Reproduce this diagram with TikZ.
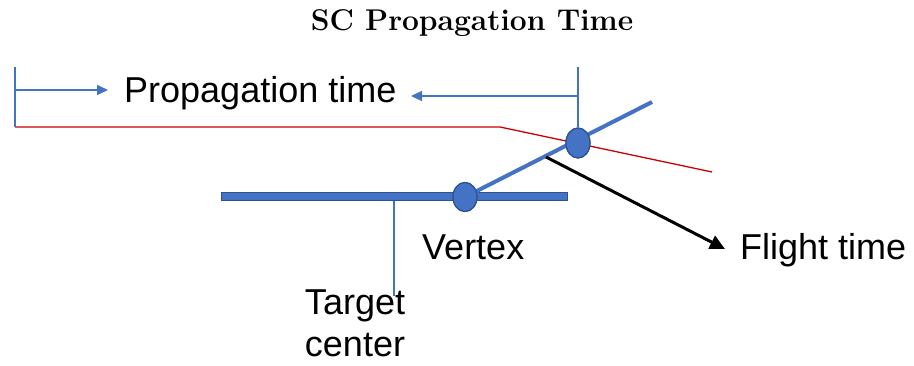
\documentclass[tikz,border=0pt]{standalone}
\usepackage{fontspec}
\newfontfamily\labelfont{Liberation Sans}
\usetikzlibrary{arrows.meta,shapes.geometric}
\definecolor{oblue}{RGB}{68,114,196}
\definecolor{dblue}{RGB}{47,82,143}
\definecolor{ored}{RGB}{204,0,0}
\tikzset{
  thinblue/.style={draw=oblue, line width=1.5pt},
  bluearrow/.style={thinblue, -{Triangle[length=11pt,width=10pt]}},
  lbl/.style={font=\labelfont\fontsize{36}{42}\selectfont, inner sep=0pt, text=black},
  dot/.style={ellipse, fill=oblue, draw=dblue, line width=1.2pt, minimum width=24pt, minimum height=30pt, inner sep=0pt},
}
\begin{document}
\begin{tikzpicture}[x=1pt,y=-1pt]
\useasboundingbox (0,0) rectangle (914,366);
% title
\node[font=\fontsize{30}{34}\selectfont\bfseries, anchor=base, inner sep=0pt] (title) at (472,31) {SC Propagation Time};
% coordinates
\coordinate (ltop) at (15,67);
\coordinate (lbot) at (15,127);
\coordinate (la0) at (15,90);
\coordinate (la1) at (108,90);
\coordinate (rtop) at (578,67);
\coordinate (ra0) at (578,96);
\coordinate (ra1) at (411,96);
\coordinate (rkink) at (500,127);
\coordinate (rend) at (712,172);
\coordinate (trackend) at (652,102);
\coordinate (ft0) at (546,157);
\coordinate (ft1) at (725,249);
\coordinate (tc0) at (394,201);
\coordinate (tc1) at (394,296);
% red line
\draw[ored, line width=1.3pt] (lbot) -- (rkink) -- (rend);
% left bracket and arrow
\draw[thinblue] (ltop) -- (lbot);
\draw[bluearrow] (la0) -- (la1);
% label
\node[lbl, anchor=base west] (prop) at (124,103) {Propagation time};
% right bracket and arrow
\node[dot] (det) at (578,143) {};
\draw[thinblue] (rtop) -- (det.north);
\draw[bluearrow] (ra0) -- (ra1);
% target bar
\node[draw=dblue, fill=oblue, line width=1pt, minimum width=346pt, minimum height=8pt, inner sep=0pt, anchor=west] (bar) at (221,197) {};
\node[dot, minimum width=24pt, minimum height=29pt] (vtx) at (465,197) {};
% track
\draw[oblue, line width=4pt] (vtx.center) -- (trackend);
\node[dot] (det2) at (det) {};
\node[dot, minimum width=24pt, minimum height=29pt] (vtx2) at (vtx) {};
% target center line
\draw[thinblue] (tc0) -- (tc1);
% flight time arrow
\draw[black, line width=3pt, -{Triangle[length=15pt,width=14pt]}] (ft0) -- (ft1);
% labels
\node[lbl, anchor=base west] (vlab) at (422,260) {Vertex};
\node[lbl, anchor=base west] (flab) at (740,260) {Flight time};
\node[lbl, anchor=north, align=center] (tlab) at (355,290) {Target\\center};
\end{tikzpicture}
\end{document}
